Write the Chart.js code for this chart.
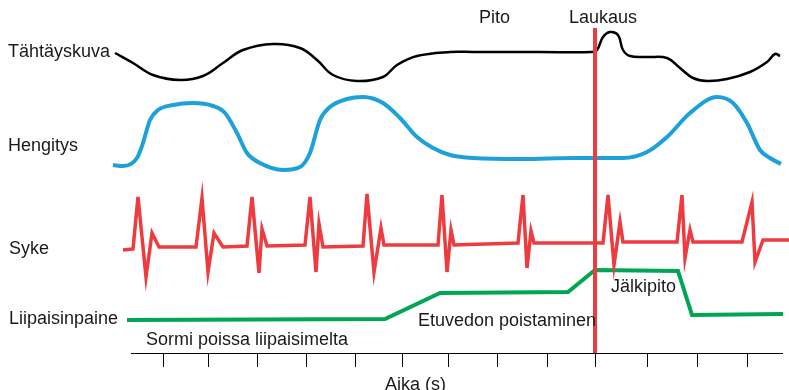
<!DOCTYPE html>
<html><head><meta charset="utf-8">
<script src="https://cdn.jsdelivr.net/npm/chart.js@4.4.1/dist/chart.umd.min.js"></script>
<style>html,body{margin:0;padding:0;background:#fff}#wrap{width:789px;height:390px}</style>
</head><body><div id="wrap"><canvas id="c" width="789" height="390"></canvas></div>
<script>
// Tähtäyskuva (aiming picture)
const aimTime  = [-1.6,0.2,2.2,4.9,7.2,9.2,11.2,14.2,16.9,18.6,20.2,22.6,25.2,26.6,28.6,31.9,34.2,40.9,46.1,46.6,47.2,47.9,48.7,49.2,49.9,51.6,53.6,54.9,56.2,57.6,59.6,61.9,63.6,64.4,64.9];
const aimValue = [30.0,29.0,27.8,27.3,27.7,29.0,30.3,30.9,30.5,29.3,27.8,27.2,27.6,28.8,29.7,30.1,30.1,30.1,30.1,30.3,31.6,32.1,31.8,30.3,29.7,29.6,29.5,28.5,27.5,27.2,27.4,28.1,29.1,29.9,29.7];
// Hengitys (breathing)
const breathTime  = [-1.8,-0.8,0.6,1.2,1.9,2.7,4.2,6.2,8.2,9.4,10.6,11.6,12.9,15.2,16.9,17.9,18.9,19.9,21.6,23.2,25.2,26.9,28.6,30.2,31.9,34.2,39.2,44.2,46.4,49.2,51.6,53.6,55.9,58.6,60.2,61.6,62.9,63.9,65.0];
const breathValue = [18.8,18.7,19.5,21.0,23.3,24.3,24.8,25.0,24.7,24.0,22.0,20.0,19.0,18.3,18.6,20.0,23.3,24.6,25.4,25.6,25.0,23.5,21.6,20.5,19.8,19.5,19.4,19.5,19.5,19.5,20.1,21.6,24.0,25.6,25.0,23.0,20.3,19.5,18.9];
// Syke (heart rate)
const pulseTime  = [-0.8,0.2,0.7,1.5,2.1,2.8,6.5,7.1,7.7,8.3,9.2,11.6,12.1,12.8,13.1,13.6,17.4,17.9,18.5,18.8,19.2,23.2,23.6,24.3,25.0,25.3,30.7,31.1,31.6,32.0,32.3,38.7,39.2,39.6,40.0,40.3,47.2,47.7,48.3,48.9,49.2,54.6,55.1,55.4,55.9,56.2,61.1,62.1,62.4,63.2,65.8];
const pulseValue = [10.3,10.4,15.6,7.6,12.0,10.6,10.6,15.5,8.1,12.0,10.6,10.7,15.6,8.0,12.4,10.7,10.8,15.6,8.1,12.9,10.6,10.7,15.9,8.1,12.5,10.8,10.8,15.8,8.1,12.3,10.8,11.0,15.8,8.5,12.2,11.0,11.0,15.8,8.8,13.1,11.1,11.1,15.8,9.5,12.3,11.1,11.1,15.1,9.1,11.3,11.3];
// Liipaisinpaine (trigger pressure)
const triggerTime  = [-0.4,25.4,30.9,43.7,46.4,54.7,56.1,65.2];
const triggerValue = [3.3,3.4,6.0,6.1,8.3,8.2,3.8,3.9];
// Laukaus (shot) marker
const shotTime  = [46.4,46.4];
const shotValue = [32.5,0];
// x-axis tick positions
const tickTimes = [3.2,7.7,12.6,17.5,22.4,27.1,31.7,36.6,41.6,46.4,51.6,56.6,61.6];

const pts = (xs, ys) => xs.map((x, i) => ({x, y: ys[i]}));

const labels = [
  {text: 'Tähtäyskuva', x: 8, y: 56.5},
  {text: 'Hengitys', x: 8, y: 151},
  {text: 'Syke', x: 9, y: 254},
  {text: 'Liipaisinpaine', x: 9, y: 324},
  {text: 'Pito', x: 479, y: 23},
  {text: 'Laukaus', x: 569, y: 23},
  {text: 'Sormi poissa liipaisimelta', x: 146, y: 345},
  {text: 'Etuvedon poistaminen', x: 418, y: 326},
  {text: 'Jälkipito', x: 611, y: 292},
  {text: 'Aika (s)', x: 385, y: 390}
];

const textPlugin = {
  id: 'texts',
  afterDraw(chart) {
    const ctx = chart.ctx;
    ctx.save();
    ctx.font = '18px "Liberation Sans", Arial, sans-serif';
    ctx.fillStyle = '#1a1a1a';
    ctx.textBaseline = 'alphabetic';
    ctx.textAlign = 'left';
    labels.forEach(l => ctx.fillText(l.text, l.x, l.y));
    ctx.restore();
  }
};

const common = {pointRadius: 0, fill: false, clip: false};
new Chart(document.getElementById('c'), {
  type: 'line',
  data: {
    datasets: [
      {...common, label: 'Laukaus', data: pts(shotTime, shotValue), borderColor: '#ee3b40', borderWidth: 4, tension: 0, borderCapStyle: 'butt'},
      {...common, label: 'Tähtäyskuva', data: pts(aimTime, aimValue), borderColor: '#000000', borderWidth: 2.5, tension: 0.4},
      {...common, label: 'Hengitys', data: pts(breathTime, breathValue), borderColor: '#1ea0da', borderWidth: 4, cubicInterpolationMode: 'monotone'},
      {...common, label: 'Syke', data: pts(pulseTime, pulseValue), borderColor: '#ee3b40', borderWidth: 3.5, tension: 0},
      {...common, label: 'Liipaisinpaine', data: pts(triggerTime, triggerValue), borderColor: '#00a651', borderWidth: 4, tension: 0}
    ]
  },
  options: {
    responsive: false,
    animation: false,
    devicePixelRatio: 1,
    layout: {padding: {left: 131, right: 7, top: 0, bottom: 0}},
    plugins: {legend: {display: false}, tooltip: {enabled: false}},
    scales: {
      x: {
        type: 'linear',
        bounds: 'data',
        afterDataLimits: s => { s.min = 0; s.max = 65.1; },
        afterBuildTicks: s => { s.ticks = tickTimes.map(v => ({value: v})); },
        afterFit: s => { s.height = 37; },
        ticks: {display: false},
        grid: {display: true, drawOnChartArea: false, drawTicks: true, tickLength: 14, color: '#000', lineWidth: 1},
        border: {display: true, color: '#000', width: 1}
      },
      y: {type: 'linear', min: 0, max: 35.3, display: false}
    }
  },
  plugins: [textPlugin]
});
</script>
</body></html>
